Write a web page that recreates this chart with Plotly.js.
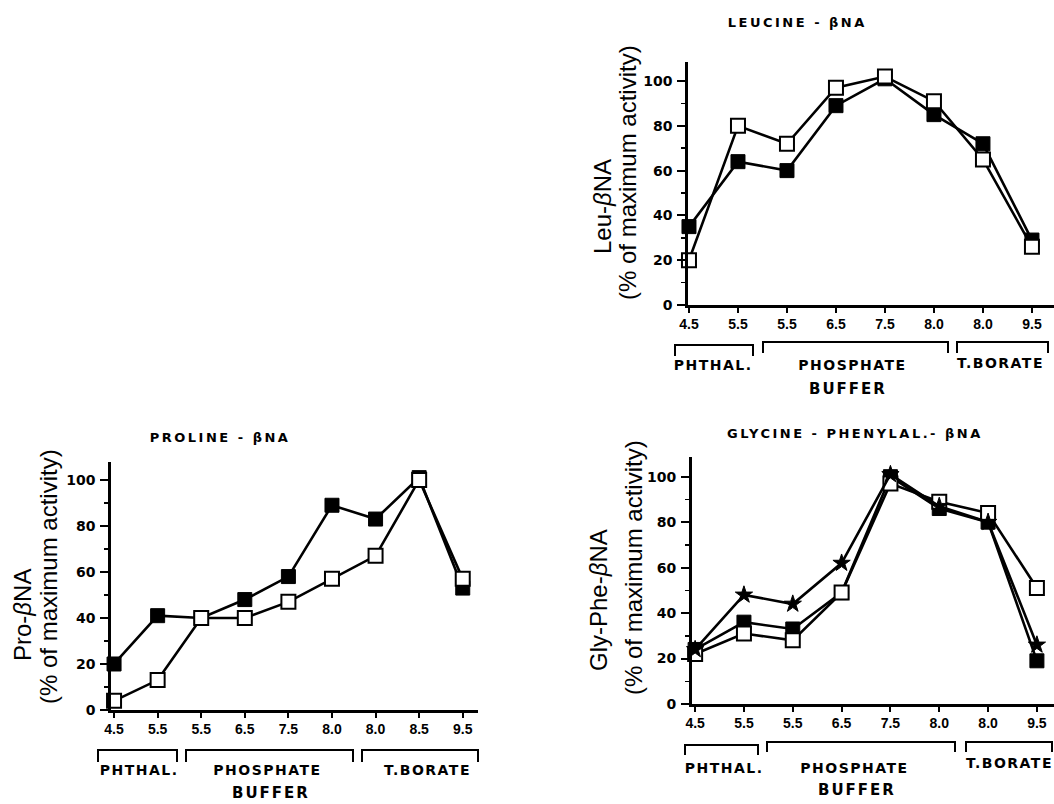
<!DOCTYPE html>
<html>
<head>
<meta charset="utf-8">
<script src="https://cdn.plot.ly/plotly-3.0.1.min.js"></script>
<style>
html,body{margin:0;padding:0;background:#fff;}
#chart{width:1054px;height:804px;}
</style>
</head>
<body>
<div id="chart"></div>
<script>
// ---------- DATA ----------
const leuTitle = 'LEUCINE - βNA';
const proTitle = 'PROLINE - βNA';
const glyTitle = 'GLYCINE - PHENYLAL.- βNA';

const leuYTitle = 'Leu-<i>β</i>NA';
const proYTitle = 'Pro-<i>β</i>NA';
const glyYTitle = 'Gly-Phe-<i>β</i>NA';
const yTitle2 = '(% of maximum activity)';

const bufferGroups = ['PHTHAL.', 'PHOSPHATE', 'T.BORATE'];
const bufferLabel = 'BUFFER';

const leuLabels = ['4.5', '5.5', '5.5', '6.5', '7.5', '8.0', '8.0', '9.5'];
const leuOpen   = [20, 80, 72, 97, 102, 91, 65, 26];
const leuFilled = [35, 64, 60, 89, 101, 85, 72, 29];

const proLabels = ['4.5', '5.5', '5.5', '6.5', '7.5', '8.0', '8.0', '8.5', '9.5'];
const proOpen   = [4, 13, 40, 40, 47, 57, 67, 100, 57];
const proFilled = [20, 41, 40, 48, 58, 89, 83, 101, 53];

const glyLabels = ['4.5', '5.5', '5.5', '6.5', '7.5', '8.0', '8.0', '9.5'];
const glyOpen   = [22, 31, 28, 49, 97, 89, 84, 51];
const glyFilled = [24, 36, 33, 49, 100, 86, 80, 19];
const glyStar   = [24, 48, 44, 62, 101, 87, 80, 26];

const yTickVals = [0, 20, 40, 60, 80, 100];
const yMinorVals = [10, 30, 50, 70, 90];

// ---------- HELPERS ----------
const W = 1054, H = 804;
const PX = x => x / W;
const PY = y => 1 - y / H;
const idx = arr => arr.map((_, i) => i);

const lineStyle = {color: '#000', width: 2.6};
const filledMarker = {symbol: 'square', size: 14, color: '#000', line: {color: '#000', width: 1}};
const openMarker = {symbol: 'square', size: 14, color: '#fff', line: {color: '#000', width: 2}};
const starMarker = {symbol: 'star', size: 13, color: '#000', line: {color: '#000', width: 1}};

function tr(labels, vals, marker, xa, ya) {
  return {type: 'scatter', mode: 'lines+markers', x: idx(labels), y: vals,
    xaxis: xa, yaxis: ya, line: lineStyle, marker: marker, cliponaxis: false,
    hoverinfo: 'skip', showlegend: false};
}

const data = [
  tr(leuLabels, leuFilled, filledMarker, 'x', 'y'),
  tr(leuLabels, leuOpen, openMarker, 'x', 'y'),
  tr(proLabels, proFilled, filledMarker, 'x2', 'y2'),
  tr(proLabels, proOpen, openMarker, 'x2', 'y2'),
  tr(glyLabels, glyFilled, filledMarker, 'x3', 'y3'),
  tr(glyLabels, glyOpen, openMarker, 'x3', 'y3'),
  tr(glyLabels, glyStar, starMarker, 'x3', 'y3')
];

function xAxis(labels, domain, range, anchor) {
  return {domain: domain, range: range, anchor: anchor,
    tickmode: 'array', tickvals: idx(labels), ticktext: labels,
    showline: true, linewidth: 2.6, linecolor: '#000',
    ticks: 'outside', ticklen: 5, tickwidth: 2, tickcolor: '#000',
    showgrid: false, zeroline: false, fixedrange: true,
    tickfont: {family: 'Liberation Sans, Arial, sans-serif', size: 14, color: '#000', weight: 'bold'}};
}
function yAxis(domain, top, anchor, standoff) {
  return {domain: domain, range: [0, top], anchor: anchor,
    tickmode: 'array', tickvals: yTickVals,
    showline: true, linewidth: 2.6, linecolor: '#000',
    ticks: 'outside', ticklen: 8, tickwidth: 2, tickcolor: '#000',
    ticklabelstandoff: standoff,
    minor: {tickmode: 'array', tickvals: yMinorVals, ticks: 'outside', ticklen: 4, tickwidth: 1.5, tickcolor: '#000', showgrid: false},
    showgrid: false, zeroline: false, fixedrange: true,
    tickfont: {family: 'DejaVu Sans, sans-serif', size: 14, color: '#000', weight: 'bold'}};
}

const annotations = [];
const spacing = [];
function ann(text, x, y, size, family, weight, ls, angle) {
  annotations.push({text: text, xref: 'paper', yref: 'paper', x: PX(x), y: PY(y),
    xanchor: 'center', yanchor: 'middle', showarrow: false, textangle: angle || 0,
    font: {family: family, size: size, color: '#000', weight: weight}});
  spacing.push(ls);
}
const TF = 'DejaVu Sans, sans-serif';
const SF = 'Liberation Sans, Arial, sans-serif';

// panel titles
ann(leuTitle, 797, 23, 13, TF, 'bold', 2.5);
ann(proTitle, 220, 437, 13, TF, 'bold', 2.5);
ann(glyTitle, 855, 433, 13, TF, 'bold', 2.5);
// y titles
ann(leuYTitle, 602, 207, 24, SF, 'normal', 0, -90);
ann(yTitle2, 627, 173, 24, SF, 'normal', 0, -90);
ann(proYTitle, 22, 615, 24, SF, 'normal', 0, -90);
ann(yTitle2, 48, 577, 24, SF, 'normal', 0, -90);
ann(glyYTitle, 598, 600, 24, SF, 'normal', 0, -90);
ann(yTitle2, 633, 568, 24, SF, 'normal', 0, -90);

// buffer groups decoration (pixel positions)
const groupPos = [
  {cx: [713, 852, 1000], cy: [365, 365, 363], bx: 848, by: 389,
   br: [[675, 753, 345], [763, 948, 342], [957, 1048, 342]], drop: 11},
  {cx: [139, 267, 427], cy: [770, 770, 770], bx: 271, by: 793,
   br: [[98, 177, 750], [186, 353, 750], [362, 478, 750]], drop: 12},
  {cx: [724, 854, 1009], cy: [768, 768, 763], bx: 857, by: 790,
   br: [[685, 758, 745], [767, 955, 742], [966, 1052, 742]], drop: 10}
];
const shapes = [];
groupPos.forEach(g => {
  bufferGroups.forEach((name, i) => {
    ann(name, g.cx[i], g.cy[i], 14, TF, 'bold', 1.5);
    const b = g.br[i];
    shapes.push({type: 'path', xref: 'paper', yref: 'paper',
      path: 'M ' + PX(b[0]) + ' ' + PY(b[2] + g.drop) + ' L ' + PX(b[0]) + ' ' + PY(b[2]) +
            ' L ' + PX(b[1]) + ' ' + PY(b[2]) + ' L ' + PX(b[1]) + ' ' + PY(b[2] + g.drop),
      line: {color: '#000', width: 2}});
  });
  ann(bufferLabel, g.bx, g.by, 15, TF, 'bold', 2);
});

const layout = {
  width: W, height: H,
  margin: {l: 0, r: 0, t: 0, b: 0},
  paper_bgcolor: '#fff', plot_bgcolor: 'rgba(0,0,0,0)',
  showlegend: false,
  xaxis: xAxis(leuLabels, [PX(688), 1], [-0.02, 7.45], 'y'),
  yaxis: yAxis([PY(305), PY(62)], 108.5, 'x', 2),
  xaxis2: xAxis(proLabels, [PX(111), PX(478)], [-0.07, 8.35], 'y2'),
  yaxis2: yAxis([PY(710), PY(462)], 107.8, 'x2', 2),
  xaxis3: xAxis(glyLabels, [PX(691.7), 1], [-0.07, 7.35], 'y3'),
  yaxis3: yAxis([PY(704), PY(456.7)], 108.8, 'x3', 2),
  annotations: annotations,
  shapes: shapes
};

Plotly.newPlot('chart', data, layout, {displayModeBar: false, staticPlot: true}).then(gd => {
  document.querySelectorAll('g.annotation').forEach(g => {
    const i = +g.getAttribute('data-index');
    if (spacing[i]) {
      g.querySelectorAll('text').forEach(t => { t.style.letterSpacing = spacing[i] + 'px'; });
    }
  });
});
</script>
</body>
</html>
